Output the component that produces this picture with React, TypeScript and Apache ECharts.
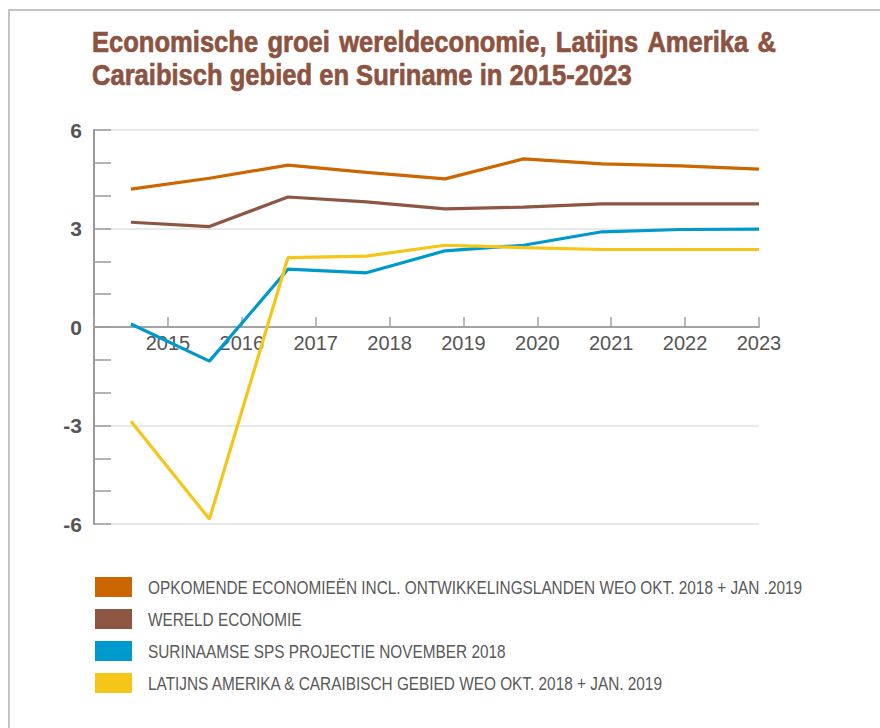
import React, { useEffect, useRef } from "react";
import * as echarts from "echarts";

const years = ["2015", "2016", "2017", "2018", "2019", "2020", "2021", "2022", "2023"];
const titleLines = [
  "Economische groei wereldeconomie, Latijns Amerika &",
  "Caraibisch gebied en Suriname in 2015-2023",
];
const seriesNames = [
  "OPKOMENDE ECONOMIEËN INCL. ONTWIKKELINGSLANDEN WEO OKT. 2018 + JAN .2019",
  "WERELD ECONOMIE",
  "SURINAAMSE SPS PROJECTIE NOVEMBER 2018",
  "LATIJNS AMERIKA & CARAIBISCH GEBIED WEO OKT. 2018 + JAN. 2019",
];
const emerging = [4.2, 4.53, 4.93, 4.71, 4.51, 5.12, 4.97, 4.91, 4.81];
const world = [3.19, 3.06, 3.96, 3.81, 3.6, 3.65, 3.75, 3.75, 3.75];
const suriname = [0.09, -1.04, 1.76, 1.65, 2.32, 2.49, 2.9, 2.97, 2.98];
const latam = [-2.87, -5.85, 2.11, 2.16, 2.49, 2.42, 2.36, 2.36, 2.36];
const yTicks = { min: -6, max: 6, interval: 3 };

const colors = ["#CC6600", "#8C5642", "#0099CC", "#F5C518"];
const TITLE_COLOR = "#8C5341";
const TITLE_FONT = "bold 30px 'Liberation Sans', Arial, sans-serif";
const LEGEND_FONT = "19px 'Liberation Sans', Arial, sans-serif";

function measure(text: string, font: string): number {
  const ctx = document.createElement("canvas").getContext("2d");
  if (!ctx) return text.length * 10;
  ctx.font = font;
  return ctx.measureText(text).width;
}

export default function App() {
  const ref = useRef<HTMLDivElement>(null);
  useEffect(() => {
    if (!ref.current) return;
    const chart = echarts.init(ref.current, null, { renderer: "svg" });
    const values = [emerging, world, suriname, latam];

    // title: condensed look via horizontal scaling; first line justified
    const titleLeft = 92;
    const line1Width = 684;
    const line2Width = 540;
    const titleScale = line2Width / measure(titleLines[1], TITLE_FONT);
    const words = titleLines[0].split(" ");
    const wordW = words.map((w) => measure(w, TITLE_FONT) * titleScale);
    const gap = (line1Width - wordW.reduce((a, b) => a + b, 0)) / (words.length - 1);
    const titleStyle = {
      font: TITLE_FONT,
      fill: TITLE_COLOR,
      stroke: TITLE_COLOR,
      lineWidth: 0.7,
      verticalAlign: "middle",
    };
    const titleEls: any[] = [];
    let cx = titleLeft;
    words.forEach((w, i) => {
      titleEls.push({
        type: "text",
        x: cx,
        y: 42,
        scaleX: titleScale,
        silent: true,
        style: { text: w, ...titleStyle },
      });
      cx += wordW[i] + gap;
    });
    titleEls.push({
      type: "text",
      x: titleLeft,
      y: 75,
      scaleX: titleScale,
      silent: true,
      style: { text: titleLines[1], ...titleStyle },
    });

    // legend
    const legendScale = 655 / measure(seriesNames[0], LEGEND_FONT);
    const legendEls: any[] = [];
    seriesNames.forEach((name, k) => {
      legendEls.push({
        type: "rect",
        shape: { x: 95, y: 577 + 32 * k, width: 37, height: 20 },
        style: { fill: colors[k] },
        silent: true,
      });
      legendEls.push({
        type: "text",
        x: 148,
        y: 587.5 + 32 * k,
        scaleX: legendScale,
        silent: true,
        style: { text: name, font: LEGEND_FONT, fill: "#595959", verticalAlign: "middle" },
      });
    });

    const gridHeight = 394;
    const zeroOffset = -((0 - yTicks.min) / (yTicks.max - yTicks.min)) * gridHeight;

    chart.setOption({
      animation: false,
      backgroundColor: "#ffffff",
      graphic: [
        { type: "rect", shape: { x: 8, y: 9, width: 872, height: 2 }, style: { fill: "#c4c4c4" }, silent: true },
        { type: "rect", shape: { x: 8, y: 9, width: 2, height: 719 }, style: { fill: "#c4c4c4" }, silent: true },
        ...titleEls,
        ...legendEls,
      ],
      grid: { left: 94, top: 130, width: 665, height: gridHeight, containLabel: false },
      xAxis: [
        {
          type: "value",
          min: 0,
          max: years.length,
          interval: 1,
          position: "bottom",
          offset: zeroOffset,
          axisLine: { onZero: false, lineStyle: { color: "#a3a3a3", width: 2 } },
          axisTick: { show: true, inside: true, length: 10, lineStyle: { color: "#a3a3a3", width: 1.5 } },
          axisLabel: {
            formatter: (v: number) => (v >= 1 ? years[v - 1] : ""),
            fontFamily: "'Liberation Sans', Arial, sans-serif",
            fontSize: 20,
            color: "#555555",
            margin: 6,
          },
          splitLine: { show: false },
        },
        {
          type: "value",
          min: -0.47,
          max: years.length - 1,
          show: false,
        },
      ],
      yAxis: {
        type: "value",
        min: yTicks.min,
        max: yTicks.max,
        interval: yTicks.interval,
        axisLine: { show: true, onZero: false, lineStyle: { color: "#9a9a9a", width: 2 } },
        axisTick: { show: true, inside: true, length: 17, lineStyle: { color: "#9a9a9a", width: 1.5 } },
        minorTick: { show: true, splitNumber: 3, length: 17, lineStyle: { color: "#9a9a9a", width: 1.5 } },
        splitLine: { show: true, lineStyle: { color: "#e2e2e2", width: 1.5 } },
        axisLabel: {
          fontFamily: "'Liberation Sans', Arial, sans-serif",
          fontSize: 21,
          fontWeight: "bold",
          color: "#555555",
          margin: 12,
        },
      },
      series: seriesNames.map((name, k) => ({
        name,
        type: "line",
        xAxisIndex: 1,
        yAxisIndex: 0,
        symbol: "none",
        color: colors[k],
        lineStyle: { color: colors[k], width: 3.2 },
        itemStyle: { color: colors[k] },
        data: years.map((_, i) => [i, values[k][i]]),
        z: 3 + k,
      })),
    });
    return () => chart.dispose();
  }, []);
  return <div ref={ref} style={{ position: "fixed", left: 0, top: 0, width: 880, height: 728 }} />;
}
